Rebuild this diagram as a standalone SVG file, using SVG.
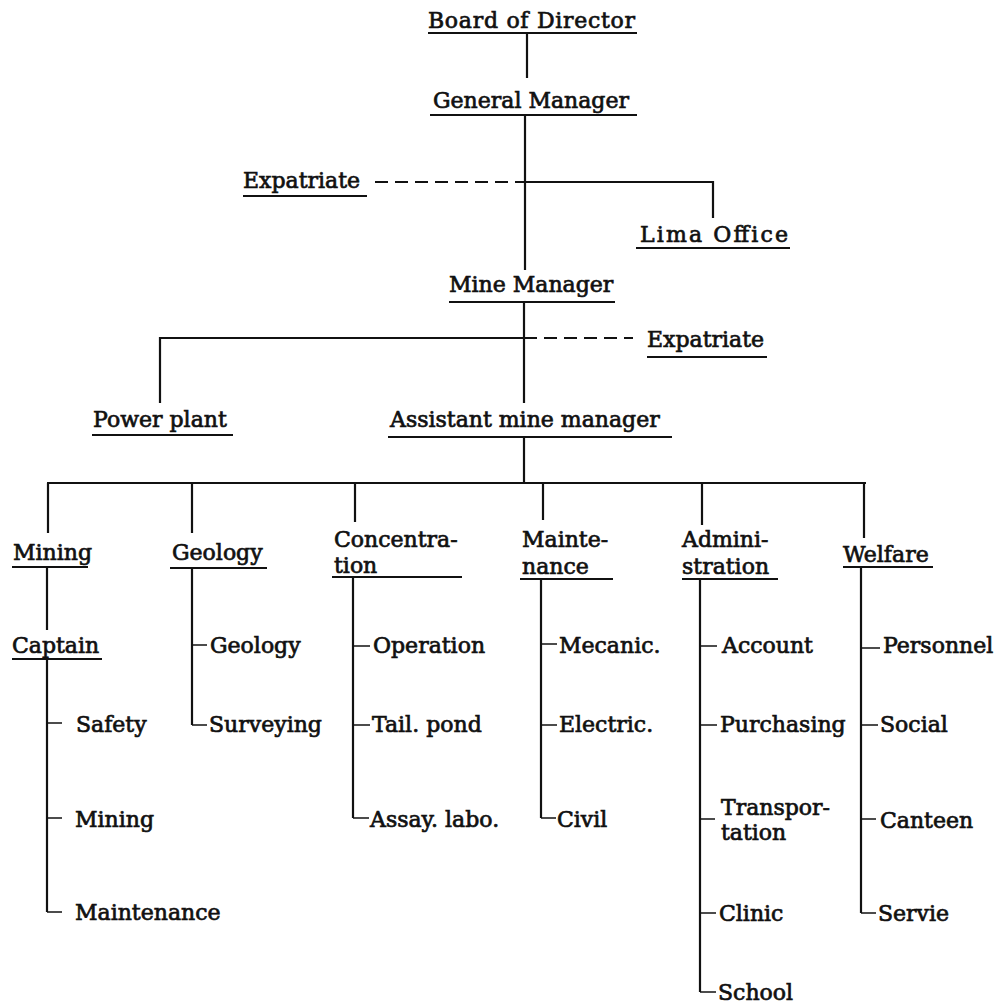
<svg xmlns="http://www.w3.org/2000/svg" width="997" height="1003" viewBox="0 0 997 1003">
<style>
text{font-family:"DejaVu Serif","Liberation Serif",serif;font-size:22px;fill:#111;stroke:#111;stroke-width:0.7}
.u{stroke:#111;stroke-width:2;fill:none}
.c{stroke:#111;stroke-width:2.2;fill:none}
.t{stroke:#111;stroke-width:1.5;fill:none}
.d{stroke:#111;stroke-width:2;fill:none;stroke-dasharray:13 7}
</style>
<rect width="997" height="1003" fill="#fff"/>
<g id="connectors">
<line class="c" x1="527" y1="33" x2="527" y2="78"/>
<line class="c" x1="525" y1="115" x2="525" y2="270"/>
<line class="d" x1="375" y1="182" x2="525" y2="182"/>
<polyline class="c" points="525,182 713,182 713,218"/>
<line class="c" x1="524" y1="302" x2="524" y2="403"/>
<polyline class="c" points="160,403 160,338 524,338"/>
<line class="d" x1="524" y1="338" x2="633" y2="338"/>
<line class="c" x1="524" y1="437" x2="524" y2="483"/>
<line class="c" x1="47" y1="483" x2="866" y2="483"/>
<line class="c" x1="48" y1="483" x2="48" y2="533"/>
<line class="c" x1="192" y1="483" x2="192" y2="533"/>
<line class="c" x1="355" y1="483" x2="355" y2="522"/>
<line class="c" x1="543" y1="483" x2="543" y2="520"/>
<line class="c" x1="702" y1="483" x2="702" y2="525"/>
<line class="c" x1="864" y1="483" x2="864" y2="538"/>
<line class="c" x1="47" y1="567" x2="47" y2="630"/>
<polyline class="c" points="47,659 47,912"/>
<line class="t" x1="47" y1="723" x2="62" y2="723"/>
<line class="t" x1="47" y1="818" x2="62" y2="818"/>
<line class="t" x1="47" y1="912" x2="62" y2="912"/>
<line class="c" x1="192" y1="568" x2="192" y2="725"/>
<line class="t" x1="192" y1="645" x2="207" y2="645"/>
<line class="t" x1="192" y1="725" x2="207" y2="725"/>
<line class="c" x1="353" y1="577" x2="353" y2="818"/>
<line class="t" x1="353" y1="646" x2="370" y2="646"/>
<line class="t" x1="353" y1="725" x2="370" y2="725"/>
<line class="t" x1="353" y1="818" x2="369" y2="818"/>
<line class="c" x1="541" y1="579" x2="541" y2="818"/>
<line class="t" x1="541" y1="644" x2="557" y2="644"/>
<line class="t" x1="541" y1="725" x2="557" y2="725"/>
<line class="t" x1="541" y1="818" x2="556" y2="818"/>
<line class="c" x1="700" y1="579" x2="700" y2="992"/>
<line class="t" x1="700" y1="646" x2="717" y2="646"/>
<line class="t" x1="700" y1="725" x2="717" y2="725"/>
<line class="t" x1="700" y1="819" x2="715" y2="819"/>
<line class="t" x1="700" y1="913" x2="716" y2="913"/>
<line class="t" x1="700" y1="992" x2="716" y2="992"/>
<line class="c" x1="861" y1="567" x2="861" y2="913"/>
<line class="t" x1="861" y1="648" x2="880" y2="648"/>
<line class="t" x1="861" y1="725" x2="878" y2="725"/>
<line class="t" x1="861" y1="819" x2="876" y2="819"/>
<line class="t" x1="861" y1="913" x2="876" y2="913"/>
</g>
<g id="board"><text x="428" y="28" textLength="207" lengthAdjust="spacing">Board of Director</text><line class="u" x1="428" y1="33" x2="637" y2="33"/></g>
<g id="general-manager"><text x="433" y="108">General Manager</text><line class="u" x1="430" y1="115" x2="637" y2="115"/></g>
<g id="expatriate-1"><text x="243" y="188">Expatriate</text><line class="u" x1="243" y1="196" x2="367" y2="196"/></g>
<g id="lima-office"><text x="640" y="242" textLength="148" lengthAdjust="spacing">Lima Office</text><line class="u" x1="636" y1="248" x2="790" y2="248"/></g>
<g id="mine-manager"><text x="449" y="292">Mine Manager</text><line class="u" x1="449" y1="302" x2="615" y2="302"/></g>
<g id="expatriate-2"><text x="647" y="347">Expatriate</text><line class="u" x1="647" y1="357" x2="767" y2="357"/></g>
<g id="power-plant"><text x="93" y="427">Power plant</text><line class="u" x1="92" y1="435" x2="233" y2="435"/></g>
<g id="assistant"><text x="390" y="427">Assistant mine manager</text><line class="u" x1="388" y1="437" x2="672" y2="437"/></g>
<g id="mining"><text x="13" y="560">Mining</text><line class="u" x1="12" y1="567" x2="88" y2="567"/></g>
<g id="captain"><text x="12" y="653">Captain</text><line class="u" x1="12" y1="659" x2="102" y2="659"/></g>
<g id="captain-items"><text x="76" y="732">Safety</text><text x="75" y="827">Mining</text><text x="75" y="920">Maintenance</text></g>
<g id="geology"><text x="172" y="560">Geology</text><line class="u" x1="170" y1="568" x2="267" y2="568"/></g>
<g id="geology-items"><text x="210" y="653">Geology</text><text x="209" y="732">Surveying</text></g>
<g id="concentration"><text x="334" y="547">Concentra-</text><text x="334" y="573">tion</text><line class="u" x1="332" y1="577" x2="462" y2="577"/></g>
<g id="concentration-items"><text x="373" y="653">Operation</text><text x="372" y="732">Tail. pond</text><text x="370" y="827">Assay. labo.</text></g>
<g id="maintenance"><text x="522" y="547">Mainte-</text><text x="522" y="574">nance</text><line class="u" x1="520" y1="579" x2="613" y2="579"/></g>
<g id="maintenance-items"><text x="559" y="653">Mecanic.</text><text x="559" y="732">Electric.</text><text x="557" y="827">Civil</text></g>
<g id="administration"><text x="682" y="547">Admini-</text><text x="682" y="574">stration</text><line class="u" x1="682" y1="579" x2="778" y2="579"/></g>
<g id="administration-items"><text x="722" y="653">Account</text><text x="720" y="732">Purchasing</text><text x="721" y="815">Transpor-</text><text x="721" y="840">tation</text><text x="719" y="921">Clinic</text><text x="718" y="1000">School</text></g>
<g id="welfare"><text x="843" y="562">Welfare</text><line class="u" x1="843" y1="567" x2="933" y2="567"/></g>
<g id="welfare-items"><text x="883" y="653">Personnel</text><text x="880" y="732">Social</text><text x="880" y="828">Canteen</text><text x="878" y="921">Servie</text></g>
</svg>
